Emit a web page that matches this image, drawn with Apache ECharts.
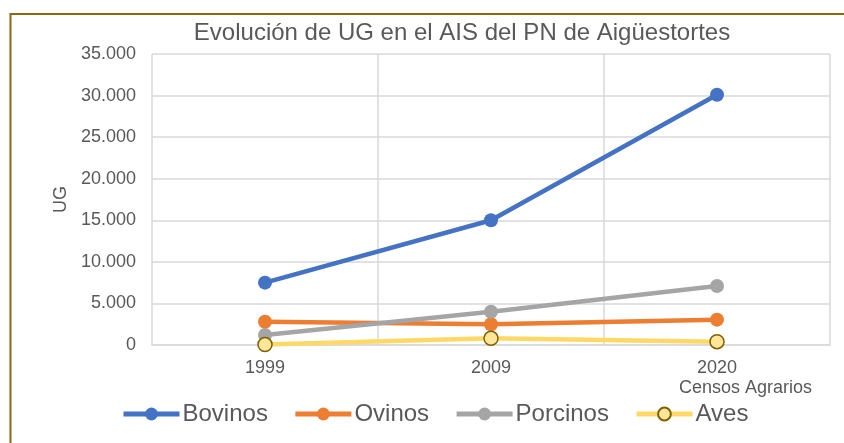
<!DOCTYPE html>
<html>
<head>
<meta charset="utf-8">
<script src="https://cdn.jsdelivr.net/npm/echarts@6/dist/echarts.min.js"></script>
<style>
  html, body { margin: 0; padding: 0; background: #fff; }
  #chart { width: 844px; height: 443px; }
</style>
</head>
<body>
<div id="chart"></div>
<script>
// datos del gráfico
const years = ['1999', '2009', '2020'];
const bovinos = [7500, 15000, 30100];
const ovinos = [2800, 2500, 3050];
const porcinos = [1200, 4000, 7100];
const aves = [50, 800, 400];

const fontFamily = '"Liberation Sans", Arial, sans-serif';
const textColor = '#595959';
const gridColor = '#d9d9d9';

function miles(v) {
  return String(v).replace(/\B(?=(\d{3})+(?!\d))/g, '.');
}

function lineSerie(name, data, color, fill, border) {
  return {
    name: name,
    type: 'line',
    data: data,
    symbol: 'circle',
    symbolSize: 14,
    lineStyle: {color: color, width: 4.5},
    itemStyle: {color: fill || color, borderColor: border || color, borderWidth: border ? 1.5 : 0},
    emphasis: {disabled: true}
  };
}

const chart = echarts.init(document.getElementById('chart'));
chart.setOption({
  animation: false,
  backgroundColor: '#fff',
  textStyle: {fontFamily: fontFamily},
  title: {
    text: 'Evolución de UG en el AIS del PN de Aigüestortes',
    left: 457,
    textAlign: 'center',
    top: 16,
    textStyle: {fontSize: 24, fontWeight: 'normal', color: textColor, fontFamily: fontFamily}
  },
  graphic: [{
    type: 'rect',
    shape: {x: 10.5, y: 14, width: 900, height: 500},
    style: {fill: 'none', stroke: '#8a6a0a', lineWidth: 2},
    silent: true
  }],
  legend: {
    top: 397,
    left: 116,
    itemWidth: 56,
    itemHeight: 16,
    itemGap: 25,
    lineStyle: {width: 5},
    textStyle: {fontSize: 24, color: textColor, fontFamily: fontFamily, padding: [0, 0, 0, -2]},
    data: ['Bovinos', 'Ovinos', 'Porcinos', 'Aves']
  },
  grid: {left: 152, right: 14, top: 54, bottom: 98, containLabel: false},
  xAxis: {
    type: 'category',
    data: years,
    boundaryGap: true,
    name: 'Censos Agrarios',
    nameLocation: 'end',
    nameGap: -18,
    nameTextStyle: {fontSize: 18, color: textColor, align: 'right', verticalAlign: 'top', padding: [34, 0, 0, 0]},
    axisLine: {lineStyle: {color: gridColor, width: 1.5}},
    axisTick: {show: false},
    axisLabel: {fontSize: 18, color: textColor, margin: 14},
    splitLine: {show: true, lineStyle: {color: gridColor, width: 1.5}}
  },
  yAxis: {
    type: 'value',
    min: 0,
    max: 35000,
    interval: 5000,
    name: 'UG',
    nameLocation: 'middle',
    nameGap: 82,
    nameTextStyle: {fontSize: 18, color: textColor},
    axisLine: {show: false},
    axisTick: {show: false},
    axisLabel: {fontSize: 18, color: textColor, margin: 16, formatter: miles},
    splitLine: {lineStyle: {color: gridColor, width: 1.5}}
  },
  series: [
    lineSerie('Bovinos', bovinos, '#4472c4'),
    lineSerie('Ovinos', ovinos, '#ed7d31'),
    lineSerie('Porcinos', porcinos, '#a5a5a5'),
    lineSerie('Aves', aves, '#ffd966', '#ffe699', '#7f6000')
  ]
});
</script>
</body>
</html>
